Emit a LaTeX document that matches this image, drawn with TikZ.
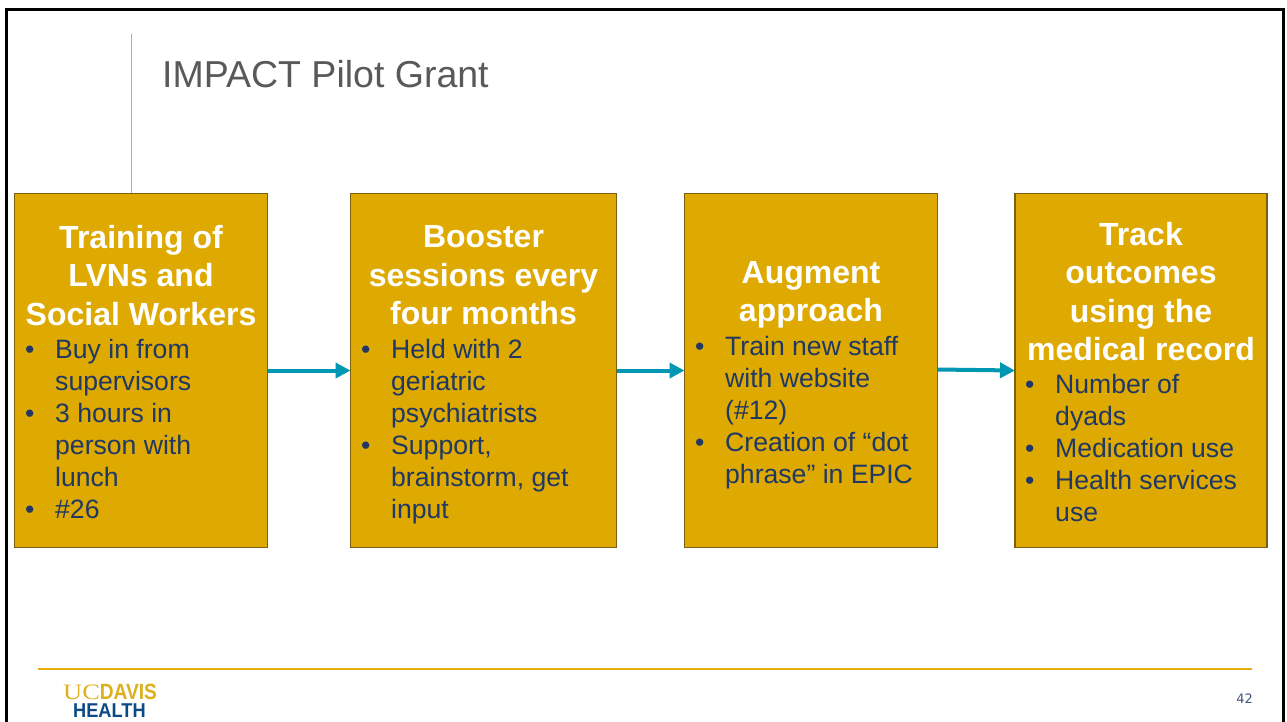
\documentclass[tikz,border=0pt]{standalone}
\usepackage{graphicx}
\usepackage{fontspec}
\setmainfont{Liberation Sans}
\newfontfamily\logoserif{Liberation Serif}
\newfontfamily\pagefont{DejaVu Sans}
\usetikzlibrary{arrows.meta}
\definecolor{boxgold}{HTML}{DEA900}
\definecolor{boxedge}{HTML}{7A6010}
\definecolor{navytext}{HTML}{1F3864}
\definecolor{flow}{HTML}{0097B2}
\definecolor{rulegold}{HTML}{E6AE10}
\definecolor{titlegray}{HTML}{595959}
\definecolor{logonavy}{HTML}{0B4A86}
\definecolor{logogold}{HTML}{DDB01C}
\newcommand{\bul}{\makebox[0pt][r]{\makebox[30pt][l]{•}}}
\tikzset{
  stagebox/.style={draw=boxedge,line width=1.1pt,fill=boxgold,anchor=north west,inner sep=0pt,outer sep=0pt},
  headtext/.style={text=white,font=\fontsize{32}{38.5}\selectfont\bfseries,align=center,inner sep=0pt,anchor=north},
  bodytext/.style={text=navytext,font=\fontsize{26.6}{32}\selectfont,align=left,inner sep=0pt,anchor=north west},
  flowarrow/.style={draw=flow,line width=4pt,-{Triangle[length=15pt,width=15pt]}},
  goldrule/.style={draw=rulegold,line width=1.2pt}
}
\begin{document}
\begin{tikzpicture}[x=1pt,y=-1pt]
\useasboundingbox (0,0) rectangle (1287,721);
\fill[white] (0,0) rectangle (1287,721);
\begin{scope}
\clip (0,0) rectangle (1287,721);
\draw[black,line width=2.8pt] (6.2,9.5) rectangle (1283.5,740);
\end{scope}
\coordinate (vtop) at (131,34);
\coordinate (vbot) at (131,193);
\draw[goldrule,line width=1pt] (vtop) -- (vbot);
\node[anchor=base west,inner sep=0pt,text=titlegray,font=\fontsize{37.5}{44}\selectfont] (title) at (162,87) {IMPACT Pilot Grant};

\node[stagebox,minimum width=253pt,minimum height=354pt] (b1) at (14.5,193.5) {};
\node[stagebox,minimum width=266pt,minimum height=354pt] (b2) at (350.5,193.5) {};
\node[stagebox,minimum width=253pt,minimum height=354pt] (b3) at (684.5,193.5) {};
\node[stagebox,minimum width=252pt,minimum height=354pt] (b4) at (1015,193.5) {};

\draw[flowarrow] (b1.east) -- (b2.west);
\draw[flowarrow] (b2.east) -- (b3.west);
\draw[flowarrow] ([yshift=1pt]b3.east) -- (b4.west);

\node[headtext] (h1) at (141,225) {Training of\\LVNs and\\Social Workers};
\node[bodytext] (t1) at (55,339) {\bul Buy in from\\supervisors\\\bul 3 hours in\\person with\\lunch\\\bul \#26};

\node[headtext] (h2) at (483.5,225.5) {Booster\\sessions every\\four months};
\node[bodytext] (t2) at (391,339) {\bul Held with 2\\geriatric\\psychiatrists\\\bul Support,\\brainstorm, get\\input};

\node[headtext] (h3) at (811,261) {Augment\\approach};
\node[bodytext] (t3) at (725,336) {\bul Train new staff\\with website\\(\#12)\\\bul Creation of “dot\\phrase” in EPIC};

\node[headtext] (h4) at (1141,222) {Track\\outcomes\\using the\\medical record};
\node[bodytext] (t4) at (1055,374) {\bul Number of\\dyads\\\bul Medication use\\\bul Health services\\use};

\coordinate (fl) at (38,669);
\coordinate (fr) at (1252,669);
\draw[goldrule] (fl) -- (fr);
\node[anchor=base west,inner sep=0pt,text=logogold,font=\fontsize{22}{22}\selectfont] (logo1) at (63,699) {\scalebox{1.2}[1]{\logoserif UC}\scalebox{.87}[1]{\bfseries DAVIS}};
\node[anchor=base west,inner sep=0pt,text=logonavy,font=\fontsize{20}{20}\selectfont\bfseries] (logo2) at (73,717) {\scalebox{.91}[1]{HEALTH}};
\node[anchor=base east,inner sep=0pt,text=navytext!85,font=\fontsize{13}{13}\selectfont\pagefont] (pg) at (1253,703) {42};
\end{tikzpicture}
\end{document}
